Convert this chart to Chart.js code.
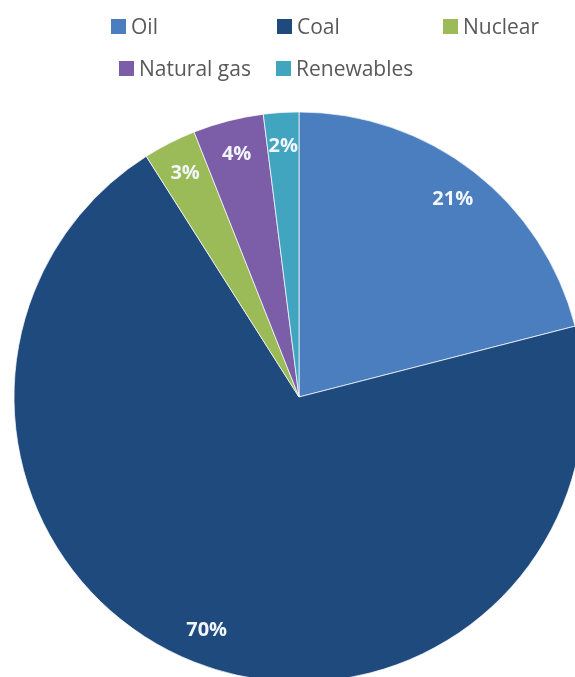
<!DOCTYPE html>
<html lang="en">
<head>
    <meta charset="UTF-8">
    <title>Energy mix</title>
    <script src="https://cdn.jsdelivr.net/npm/chart.js@4.4.2/dist/chart.umd.min.js"></script>
    <style>
        html, body {
            margin: 0;
            padding: 0;
            background: #ffffff;
            overflow: hidden;
        }
        .wrap {
            position: relative;
            width: 575px;
            height: 677px;
        }
        #energyChart {
            position: absolute;
            left: 0;
            top: 0;
        }
        /* legend laid out like the office one: fixed columns */
        .legend {
            position: absolute;
            left: 0;
            top: 0;
            width: 575px;
            font-family: 'Open Sans', sans-serif;
            font-size: 21px;
            color: #595959;
        }
        .legend-row {
            position: absolute;
            display: flex;
            align-items: center;
            height: 30px;
        }
        .legend-item {
            display: flex;
            align-items: center;
            width: 166px;
            white-space: nowrap;
        }
        .legend-box {
            width: 15px;
            height: 15px;
            margin-right: 5px;
            flex: none;
        }
        #row1 { left: 111px; top: 11px; }
        #row2 { left: 119px; top: 53px; }
        #row2 .legend-item:first-child { width: 157px; }
    </style>
</head>
<body>
    <div class="wrap">
        <canvas id="energyChart" width="575" height="677"></canvas>
        <div class="legend">
            <div class="legend-row" id="row1"></div>
            <div class="legend-row" id="row2"></div>
        </div>
    </div>

    <script>
        // Data
        const categories = ['Oil', 'Coal', 'Nuclear', 'Natural gas', 'Renewables'];
        const shares = [21, 70, 3, 4, 2];
        const sliceColors = ['#4a7ebf', '#1f4a7e', '#9bbb59', '#7b5ea7', '#41a5c0'];
        const legendRows = [[0, 1, 2], [3, 4]];

        // Build legend
        legendRows.forEach((row, r) => {
            const el = document.getElementById('row' + (r + 1));
            row.forEach(i => {
                const item = document.createElement('div');
                item.className = 'legend-item';
                const box = document.createElement('span');
                box.className = 'legend-box';
                box.style.background = sliceColors[i];
                const txt = document.createElement('span');
                txt.textContent = categories[i];
                item.appendChild(box);
                item.appendChild(txt);
                el.appendChild(item);
            });
        });

        // percent labels inside the slices
        const sliceLabels = {
            id: 'sliceLabels',
            afterDatasetsDraw(chart) {
                const ctx = chart.ctx;
                const meta = chart.getDatasetMeta(0);
                ctx.save();
                ctx.font = 'bold 20px "Open Sans", sans-serif';
                ctx.fillStyle = '#f2f6fb';
                ctx.textAlign = 'center';
                ctx.textBaseline = 'middle';
                meta.data.forEach((arc, i) => {
                    const p = arc.getProps(['x', 'y', 'startAngle', 'endAngle', 'outerRadius'], true);
                    const mid = (p.startAngle + p.endAngle) / 2;
                    const r = p.outerRadius * 0.88;
                    ctx.fillText(shares[i] + '%', p.x + Math.cos(mid) * r, p.y + Math.sin(mid) * r);
                });
                ctx.restore();
            }
        };

        new Chart(document.getElementById('energyChart'), {
            type: 'pie',
            data: {
                labels: categories,
                datasets: [{
                    data: shares,
                    backgroundColor: sliceColors,
                    borderColor: 'rgba(255, 255, 255, 0.7)',
                    borderWidth: 1,
                    clip: false
                }]
            },
            options: {
                responsive: false,
                animation: false,
                radius: 285,
                layout: {
                    padding: { left: 23, right: 0, top: 117, bottom: 0 }
                },
                plugins: {
                    legend: { display: false },
                    tooltip: { enabled: false }
                }
            },
            plugins: [sliceLabels]
        });
    </script>
</body>
</html>
